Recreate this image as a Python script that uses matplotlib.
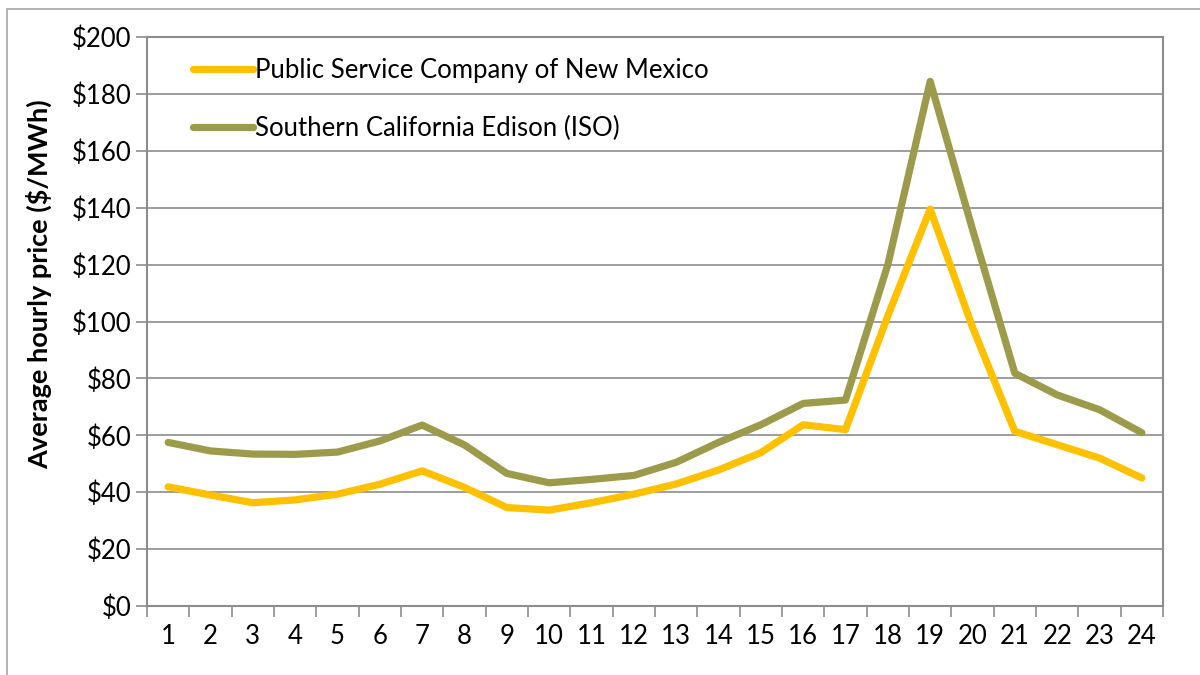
import matplotlib.pyplot as plt
from matplotlib.patches import Rectangle
from matplotlib.ticker import FuncFormatter, MultipleLocator

plt.rcParams["font.family"] = ["Lato", "DejaVu Sans"]

hours = list(range(1, 25))

pnm_price = [
    41.9, 39.0, 36.3, 37.3, 39.3, 42.8, 47.5, 41.7, 34.6, 33.7, 36.3, 39.3,
    42.9, 47.8, 53.9, 63.7, 62.0, 102.0, 139.5, 98.0, 61.4, 56.7, 52.0, 45.0,
]
sce_price = [
    57.5, 54.5, 53.4, 53.3, 54.1, 58.0, 63.6, 56.6, 46.6, 43.3, 44.5, 45.9,
    50.5, 57.5, 63.7, 71.2, 72.4, 120.0, 184.4, 132.4, 81.8, 74.2, 69.0, 60.9,
]

series_labels = [
    "Public Service Company of New Mexico",
    "Southern California Edison (ISO)",
]
series_colors = ["#FFC000", "#9B9B4B"]

figure = plt.figure(figsize=(12, 6.75), dpi=100)

# outer chart frame (cropped at right and bottom in the reference)
figure.patches.append(
    Rectangle(
        (7 / 1200, -0.1),
        1.2,
        1.1 - 9 / 675,
        transform=figure.transFigure,
        fill=False,
        edgecolor="#A6A6A6",
        linewidth=1.2,
    )
)

axis = figure.add_axes(
    [147 / 1200, 1 - 606 / 675, (1163 - 147) / 1200, (606 - 37) / 675]
)

for values, label, color in zip(
    [pnm_price, sce_price], series_labels, series_colors
):
    axis.plot(
        hours,
        values,
        color=color,
        linewidth=5.2,
        solid_capstyle="round",
        solid_joinstyle="round",
        label=label,
    )

axis.set_xlim(0.5, 24.5)
axis.set_ylim(0, 200)

axis.yaxis.set_major_locator(MultipleLocator(20))
axis.yaxis.set_major_formatter(FuncFormatter(lambda v, _: f"${v:.0f}"))
axis.set_xticks(hours)
axis.set_xticks([h + 0.5 for h in range(0, 25)], minor=True)

axis.grid(True, axis="y", color="#8C8C8C", linewidth=1.2)
axis.set_axisbelow(True)

for side in ["left", "bottom", "top", "right"]:
    axis.spines[side].set_color("#8C8C8C")
    axis.spines[side].set_linewidth(1.5)

axis.tick_params(axis="y", length=8, width=1.2, color="#8C8C8C",
                 labelsize=18.5, pad=3)
axis.tick_params(axis="x", which="major", length=0, labelsize=18.5, pad=13)
axis.tick_params(axis="x", which="minor", length=8, width=1.2,
                 color="#8C8C8C")

axis.set_ylabel(
    "Average hourly price ($/MWh)",
    fontsize=19.5,
    fontweight="bold",
)
axis.yaxis.set_label_coords(-0.093, 0.565)

axis.legend(
    loc="upper left",
    bbox_to_anchor=(0.023, 1.004),
    frameon=False,
    fontsize=18.5,
    handlelength=2.3,
    handletextpad=0.1,
    labelspacing=1.3,
)

figure.savefig("out.png", dpi=100)
